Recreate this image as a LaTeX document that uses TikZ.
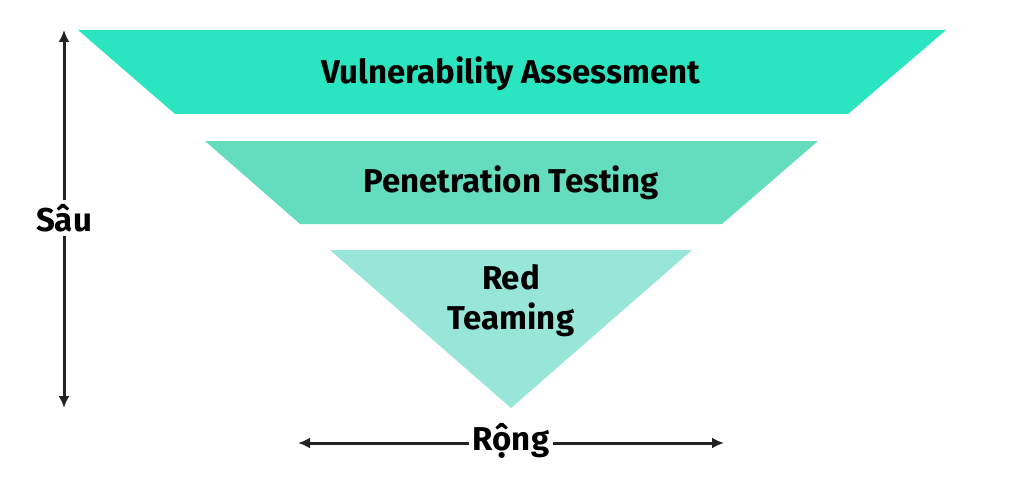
\documentclass[tikz,border=0pt]{standalone}
\usepackage{fontspec}
\setmainfont{Fira Sans}
\definecolor{layerA}{HTML}{2AE5BF}
\definecolor{layerB}{HTML}{63DDBE}
\definecolor{layerC}{HTML}{97E6D8}
\definecolor{ink}{HTML}{222222}
\tikzset{
  label text/.style={font=\fontsize{33}{38}\selectfont\bfseries, text=black, align=center},
  axis/.style={ink, line width=3pt, <->, >={Latex[length=12pt,width=11pt]}}
}
\usetikzlibrary{arrows.meta}
\begin{document}
\begin{tikzpicture}[x=1pt,y=-1pt]
\useasboundingbox (0,0) rectangle (1024,476);
% funnel layers
\fill[layerA] (78,30) -- (946,30) -- (848,114) -- (175,114) -- cycle;
\fill[layerB] (205,141) -- (818,141) -- (722,224) -- (300,224) -- cycle;
\fill[layerC] (330,250) -- (692,250) -- (511,408) -- cycle;

% layer labels
\node[label text] (va) at (511,74) {Vulnerability Assessment};
\node[label text] (pt) at (511,183) {Penetration Testing};
\node[label text, font=\fontsize{33}{40}\selectfont\bfseries] (rt) at (511,301) {Red\\Teaming};

% axes
\coordinate (deepTop) at (64,30);
\coordinate (deepBot) at (64,408);
\coordinate (wideL) at (298,443);
\coordinate (wideR) at (724,443);
\draw[axis] (deepTop) -- (deepBot);
\draw[axis] (wideL) -- (wideR);
\node[label text, fill=white, inner sep=4pt] (depth) at (64,218) {Sâu};
\node[label text, fill=white, inner sep=4pt] (width) at (511,441) {Rộng};
\end{tikzpicture}
\end{document}
